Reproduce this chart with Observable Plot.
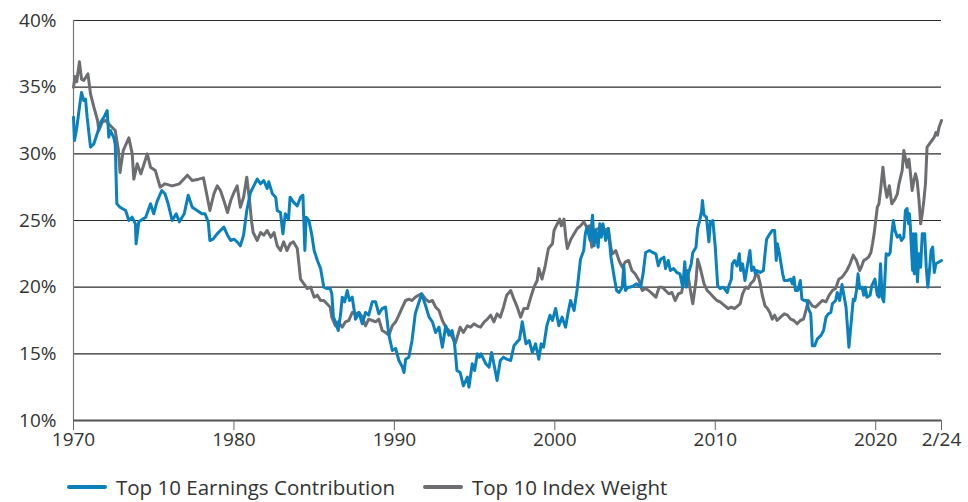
<!DOCTYPE html>
<html><head><meta charset="utf-8">
<script src="https://cdn.jsdelivr.net/npm/d3@7"></script>
<script src="https://cdn.jsdelivr.net/npm/@observablehq/plot@0.6"></script>
<style>
html,body{margin:0;padding:0;background:#fff;font-family:"Open Sans",sans-serif;overflow:hidden;}
#chart svg{display:block;}
#legend{position:relative;height:37px;font-family:"Open Sans",sans-serif;font-size:20.5px;color:#333;white-space:nowrap;}
.item{position:absolute;top:11px;display:flex;align-items:center;line-height:22px;height:22px;}
.sw{display:inline-block;width:40px;height:4px;margin-right:9px;border-radius:2px;}
</style></head>
<body>
<div id="chart"></div>
<div id="legend"></div>
<script>
const seriesNames = ["Top 10 Earnings Contribution", "Top 10 Index Weight"];
const seriesColors = ["#0a80bd", "#6d6e71"];
const yTicks = [10, 15, 20, 25, 30, 35, 40];
const xTicks = [1970, 1980, 1990, 2000, 2010, 2020, 2024.1];
const xTickLabels = ["1970", "1980", "1990", "2000", "2010", "2020", "2/24"];

const weightYear = [1970.0,1970.1,1970.2,1970.37,1970.5,1970.64,1970.9,1971.06,1971.27,1971.5,1971.58,1971.8,1972.0,1972.4,1972.6,1972.8,1972.9,1973.1,1973.45,1973.66,1973.76,1973.97,1974.2,1974.6,1974.8,1975.1,1975.4,1975.7,1976.15,1976.6,1977.1,1977.4,1977.8,1978.1,1978.3,1978.5,1978.75,1978.96,1979.16,1979.37,1979.6,1979.8,1980.0,1980.2,1980.4,1980.6,1980.7,1980.8,1980.97,1981.1,1981.2,1981.45,1981.66,1981.86,1982.07,1982.3,1982.5,1982.7,1982.9,1983.1,1983.3,1983.5,1983.7,1983.95,1984.15,1984.36,1984.57,1984.78,1985.0,1985.2,1985.4,1985.6,1985.8,1986.0,1986.1,1986.33,1986.5,1986.75,1986.95,1987.16,1987.37,1987.58,1987.8,1988.0,1988.2,1988.4,1988.62,1988.83,1989.03,1989.24,1989.45,1989.66,1989.87,1990.08,1990.28,1990.5,1990.7,1990.9,1991.1,1991.3,1991.5,1991.7,1991.95,1992.16,1992.37,1992.57,1992.78,1992.99,1993.2,1993.4,1993.6,1993.8,1994.0,1994.1,1994.3,1994.55,1994.75,1994.96,1995.15,1995.37,1995.6,1995.8,1996.0,1996.2,1996.4,1996.6,1996.8,1997.0,1997.25,1997.45,1997.66,1997.87,1998.07,1998.3,1998.5,1998.7,1998.9,1999.0,1999.2,1999.4,1999.6,1999.85,1999.95,2000.15,2000.3,2000.4,2000.57,2000.68,2000.78,2001.0,2001.2,2001.4,2001.6,2001.8,2002.0,2002.15,2002.3,2002.5,2002.75,2002.95,2003.17,2003.33,2003.5,2003.6,2003.8,2004.0,2004.2,2004.4,2004.6,2004.8,2005.0,2005.25,2005.45,2005.65,2005.85,2006.08,2006.3,2006.5,2006.7,2006.9,2007.1,2007.3,2007.5,2007.7,2007.9,2008.05,2008.25,2008.45,2008.6,2008.8,2008.9,2009.05,2009.3,2009.5,2009.7,2009.9,2010.1,2010.3,2010.6,2010.8,2011.0,2011.2,2011.4,2011.55,2011.7,2011.9,2012.05,2012.2,2012.4,2012.55,2012.67,2012.8,2012.93,2013.1,2013.25,2013.4,2013.55,2013.7,2013.85,2014.07,2014.3,2014.5,2014.7,2014.9,2015.1,2015.3,2015.5,2015.65,2015.8,2016.05,2016.25,2016.46,2016.67,2016.9,2017.1,2017.3,2017.5,2017.7,2017.9,2018.0,2018.2,2018.4,2018.6,2018.8,2019.0,2019.1,2019.25,2019.4,2019.55,2019.7,2019.8,2019.9,2020.0,2020.1,2020.2,2020.3,2020.45,2020.57,2020.7,2020.85,2021.0,2021.2,2021.35,2021.45,2021.55,2021.65,2021.75,2021.86,2021.96,2022.07,2022.17,2022.27,2022.38,2022.48,2022.58,2022.7,2022.8,2022.9,2023.0,2023.1,2023.2,2023.35,2023.5,2023.65,2023.75,2023.85,2023.95,2024.1];
const weightValue = [35.0,35.8,35.4,36.9,35.6,35.5,36.0,34.5,33.5,32.5,31.75,32.4,32.5,32.0,31.75,30.25,28.6,30.25,31.2,30.0,28.1,29.25,28.5,30.0,29.0,28.75,27.5,27.75,27.6,27.75,28.4,28.0,28.1,28.2,27.0,25.75,27.0,27.6,27.25,26.5,25.6,26.5,27.1,27.6,26.0,26.75,27.5,28.25,26.5,24.9,24.1,23.5,24.1,23.9,24.25,23.75,24.1,23.1,22.75,23.4,22.75,23.25,23.4,22.9,20.6,20.25,19.9,20.0,19.25,19.4,19.0,19.0,18.75,18.5,17.75,17.1,17.4,17.0,17.4,17.5,18.1,18.0,18.1,17.75,17.1,17.6,17.5,17.4,17.6,16.75,16.6,16.4,17.1,17.4,17.9,18.5,19.0,19.1,19.0,19.25,19.4,19.5,19.1,18.9,19.0,18.5,18.25,17.5,17.0,16.75,16.25,15.8,16.6,17.0,16.6,17.1,17.0,17.25,17.1,17.0,17.4,17.6,17.9,17.4,18.0,17.75,18.5,19.4,19.75,19.1,18.5,17.75,18.4,18.4,19.25,20.0,20.5,21.4,20.6,21.6,22.9,23.25,24.25,24.75,25.1,24.6,25.1,23.75,22.9,23.6,24.0,24.4,24.6,24.9,24.5,24.6,23.0,24.3,24.4,24.5,24.25,24.4,22.9,22.5,22.75,22.0,21.5,21.9,22.0,21.25,21.0,20.5,19.75,19.9,19.75,19.5,19.25,20.0,20.0,19.75,19.5,19.6,19.0,19.5,19.6,20.5,21.25,19.75,18.75,20.5,22.1,21.5,20.25,19.75,19.5,19.25,19.0,18.9,18.6,18.4,18.5,18.4,18.6,18.75,19.5,20.0,19.9,20.25,20.5,21.0,20.9,20.25,19.4,18.6,18.4,18.1,17.6,17.9,17.5,17.75,18.0,17.9,17.6,17.5,17.25,17.5,17.6,18.25,19.0,18.6,18.5,18.75,19.0,18.9,19.4,19.75,19.9,20.6,20.75,20.9,21.25,21.75,22.4,22.0,21.25,21.5,22.0,22.1,22.25,22.6,23.25,24.0,25.0,26.0,26.25,27.25,29.0,27.6,26.75,27.6,26.25,26.6,27.0,27.75,28.25,28.75,30.25,29.6,29.0,29.6,28.5,27.25,28.0,28.5,28.0,26.5,24.75,25.5,26.5,27.75,30.5,30.75,31.0,31.25,31.6,31.4,32.0,32.5];

const earnYear = [1970.0,1970.06,1970.2,1970.37,1970.5,1970.64,1970.75,1970.85,1971.06,1971.27,1971.5,1971.7,1971.9,1972.1,1972.2,1972.3,1972.5,1972.6,1972.7,1972.9,1973.25,1973.45,1973.65,1973.86,1973.9,1974.07,1974.5,1974.8,1975.0,1975.2,1975.5,1975.7,1975.9,1976.15,1976.4,1976.6,1976.9,1977.15,1977.4,1977.7,1978.0,1978.2,1978.4,1978.5,1978.7,1978.95,1979.16,1979.37,1979.6,1979.8,1980.0,1980.2,1980.4,1980.6,1980.8,1981.03,1981.24,1981.45,1981.66,1981.86,1982.07,1982.17,1982.4,1982.6,1982.7,1982.9,1983.05,1983.2,1983.4,1983.5,1983.7,1983.95,1984.15,1984.3,1984.42,1984.5,1984.67,1984.84,1985.0,1985.2,1985.4,1985.6,1985.8,1986.0,1986.1,1986.2,1986.33,1986.5,1986.65,1986.75,1986.9,1987.06,1987.2,1987.37,1987.58,1987.8,1988.0,1988.2,1988.4,1988.62,1988.83,1989.03,1989.24,1989.45,1989.66,1989.87,1990.08,1990.28,1990.5,1990.6,1990.7,1990.9,1991.1,1991.3,1991.5,1991.7,1991.95,1992.16,1992.37,1992.57,1992.78,1992.99,1993.2,1993.4,1993.6,1993.75,1993.9,1994.1,1994.3,1994.55,1994.65,1994.85,1995.0,1995.17,1995.3,1995.4,1995.7,1995.9,1996.06,1996.2,1996.4,1996.6,1996.8,1997.0,1997.25,1997.45,1997.66,1997.8,1997.97,1998.2,1998.4,1998.6,1998.8,1999.0,1999.15,1999.3,1999.5,1999.7,1999.85,2000.05,2000.25,2000.45,2000.67,2000.85,2000.98,2001.2,2001.4,2001.6,2001.8,2001.9,2002.0,2002.2,2002.35,2002.45,2002.55,2002.7,2002.8,2002.9,2003.0,2003.17,2003.33,2003.5,2003.7,2003.85,2004.0,2004.2,2004.3,2004.4,2004.55,2004.7,2004.9,2005.1,2005.35,2005.5,2005.66,2005.9,2006.1,2006.3,2006.45,2006.6,2006.8,2006.9,2007.07,2007.2,2007.4,2007.6,2007.8,2007.97,2008.1,2008.2,2008.3,2008.5,2008.6,2008.8,2008.9,2009.05,2009.15,2009.2,2009.3,2009.45,2009.6,2009.7,2009.85,2010.0,2010.15,2010.3,2010.5,2010.75,2010.85,2011.0,2011.06,2011.2,2011.35,2011.5,2011.58,2011.7,2011.85,2012.0,2012.16,2012.27,2012.4,2012.5,2012.6,2012.8,2013.0,2013.1,2013.2,2013.4,2013.55,2013.7,2013.8,2013.87,2014.0,2014.2,2014.3,2014.5,2014.7,2014.8,2014.9,2015.0,2015.15,2015.3,2015.4,2015.55,2015.7,2015.8,2015.95,2016.05,2016.2,2016.35,2016.6,2016.75,2016.9,2017.05,2017.2,2017.3,2017.5,2017.6,2017.75,2017.9,2018.0,2018.15,2018.33,2018.5,2018.6,2018.7,2018.8,2018.9,2019.0,2019.15,2019.25,2019.35,2019.45,2019.65,2019.75,2019.95,2020.1,2020.2,2020.3,2020.4,2020.5,2020.65,2020.8,2020.9,2021.0,2021.1,2021.2,2021.35,2021.5,2021.6,2021.75,2021.85,2021.95,2022.05,2022.1,2022.15,2022.2,2022.3,2022.35,2022.4,2022.5,2022.6,2022.7,2022.8,2022.9,2023.05,2023.15,2023.25,2023.35,2023.45,2023.55,2023.65,2023.75,2024.1];
const earnValue = [32.75,31.0,31.9,33.5,34.6,34.0,34.1,32.75,30.5,30.75,31.6,32.4,32.75,33.25,31.25,31.75,31.25,30.75,26.25,26.0,25.75,25.0,25.25,24.75,23.25,24.9,25.25,26.25,25.5,26.4,27.25,27.0,26.25,25.0,25.5,24.9,25.5,26.9,26.0,25.75,25.5,25.5,24.9,23.5,23.6,24.0,24.25,24.5,23.9,23.5,23.6,23.4,23.1,23.9,25.75,27.1,27.6,28.1,27.75,28.0,27.4,27.9,27.0,26.75,25.75,25.6,24.0,25.5,25.1,26.75,26.4,26.1,26.75,26.9,22.75,25.25,25.0,24.0,22.75,22.0,21.4,20.0,19.9,19.9,19.5,17.75,17.4,16.75,18.0,19.25,18.9,19.75,19.0,19.25,17.6,18.1,17.25,18.1,17.9,18.9,18.9,18.0,18.4,18.5,16.4,15.25,15.4,14.5,14.0,13.6,14.6,14.75,16.0,18.0,18.75,19.5,18.6,17.75,17.4,16.6,17.0,15.5,17.1,16.4,16.75,15.75,13.75,13.6,12.6,13.25,12.5,14.25,13.75,15.0,14.75,15.0,14.25,14.0,15.1,14.25,13.0,14.5,14.75,14.6,14.5,15.6,15.9,16.1,17.4,15.75,16.0,15.1,15.75,14.6,15.75,15.5,17.1,17.9,17.5,18.4,17.1,17.75,17.0,18.25,19.0,18.25,19.9,22.1,22.75,24.0,24.5,23.5,25.4,23.1,24.25,23.0,24.75,23.75,24.75,23.5,24.4,22.25,20.75,19.75,19.6,20.0,21.6,19.75,20.0,20.0,20.1,20.25,20.0,21.0,22.6,22.75,22.6,22.5,21.6,22.1,22.25,21.4,22.0,21.25,21.4,21.1,21.0,20.0,21.9,20.0,20.9,21.75,22.6,23.0,24.4,25.1,25.75,26.5,25.4,25.25,23.4,24.9,25.0,23.0,20.1,19.9,20.0,19.6,20.1,20.6,21.75,22.0,21.6,22.5,21.25,21.75,20.5,21.6,22.75,21.25,21.5,21.0,21.25,21.1,21.25,22.5,23.6,24.0,24.25,24.25,22.0,23.25,22.5,21.0,20.5,20.5,20.6,20.25,20.75,19.75,19.75,20.5,19.1,19.0,19.0,18.4,18.0,15.6,15.6,16.1,16.4,16.75,17.75,18.0,18.1,18.75,19.0,19.6,19.0,20.2,19.5,18.5,15.5,17.75,19.1,19.0,19.75,21.0,19.9,20.0,19.4,20.0,19.25,19.4,20.1,20.6,19.4,19.25,21.75,19.25,18.9,22.5,22.4,22.6,24.0,25.0,24.25,23.75,23.9,23.5,23.75,25.75,25.9,24.75,25.5,24.75,23.5,21.25,24.0,21.0,24.0,20.4,22.5,21.5,24.0,24.0,21.5,20.0,21.25,22.75,23.0,21.1,21.75,22.0];

const weightData = weightYear.map((x, i) => ({x, y: weightValue[i]}));
const earnData = earnYear.map((x, i) => ({x, y: earnValue[i]}));
const fmtX = d => xTickLabels[xTicks.indexOf(d)];

const chart = Plot.plot({
  width: 968,
  height: 465,
  marginTop: 20,
  marginBottom: 45,
  marginLeft: 73,
  marginRight: 27,
  style: {fontFamily: "Open Sans, sans-serif", fontSize: "19px", color: "#333", background: "#fff"},
  x: {domain: [1970, 2024.1], label: null},
  y: {domain: [10, 40], label: null},
  marks: [
    Plot.ruleY(yTicks.filter(d => d > 10), {stroke: "#2b2b2b", strokeWidth: 1.2}),
    Plot.ruleX([1970], {stroke: "#777", strokeWidth: 1.2}),
    Plot.line(weightData, {x: "x", y: "y", stroke: seriesColors[1], strokeWidth: 3, strokeLinejoin: "round"}),
    Plot.line(earnData, {x: "x", y: "y", stroke: seriesColors[0], strokeWidth: 3, strokeLinejoin: "round"}),
    Plot.ruleY([10], {stroke: "#555", strokeWidth: 2}),
    Plot.axisX({ticks: xTicks, tickFormat: fmtX, tickSize: 10, tickPadding: 2, stroke: "#666", strokeOpacity: 1, fill: "#333", fontSize: 19}),
    Plot.axisY({ticks: yTicks, tickFormat: d => d + "%", tickSize: 0, tickPadding: 17, fill: "#333", fontSize: 19})
  ]
});
document.getElementById("chart").appendChild(chart);

const legend = document.getElementById("legend");
const lefts = [67, 423];
seriesNames.forEach((name, i) => {
  const item = document.createElement("div");
  item.className = "item";
  item.style.left = lefts[i] + "px";
  const sw = document.createElement("span");
  sw.className = "sw";
  sw.style.background = seriesColors[i];
  item.appendChild(sw);
  item.appendChild(document.createTextNode(name));
  legend.appendChild(item);
});
</script>
</body></html>
